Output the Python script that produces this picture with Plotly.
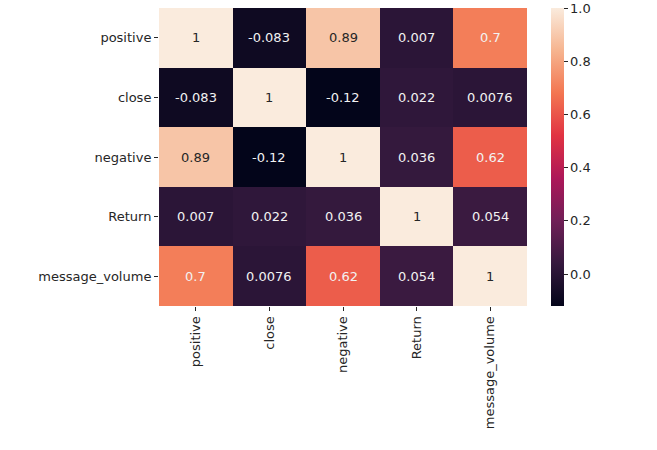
import plotly.graph_objects as go

labels = ["positive", "close", "negative", "Return", "message_volume"]
corr = [
    [1.0, -0.083, 0.89, 0.007, 0.7],
    [-0.083, 1.0, -0.12, 0.022, 0.0076],
    [0.89, -0.12, 1.0, 0.036, 0.62],
    [0.007, 0.022, 0.036, 1.0, 0.054],
    [0.7, 0.0076, 0.62, 0.054, 1.0],
]
cbar_ticks = [0.0, 0.2, 0.4, 0.6, 0.8, 1.0]

# seaborn "rocket" colormap (approximate)
rocket = [
    (0.0, "#03051a"),
    (1 / 7, "#35193e"),
    (2 / 7, "#701f57"),
    (3 / 7, "#ad1759"),
    (4 / 7, "#e13342"),
    (5 / 7, "#f37651"),
    (6 / 7, "#f6b48f"),
    (1.0, "#faebdd"),
]

zmin = min(min(r) for r in corr)
zmax = max(max(r) for r in corr)


def hex2rgb(h):
    h = h.lstrip("#")
    return [int(h[i:i + 2], 16) / 255 for i in (0, 2, 4)]


def cmap(t):
    for (p0, c0), (p1, c1) in zip(rocket[:-1], rocket[1:]):
        if p0 <= t <= p1:
            f = (t - p0) / (p1 - p0) if p1 > p0 else 0
            a, b = hex2rgb(c0), hex2rgb(c1)
            return [a[i] + f * (b[i] - a[i]) for i in range(3)]
    return hex2rgb(rocket[-1][1])


def lum(rgb):
    lin = [c / 12.92 if c <= 0.03928 else ((c + 0.055) / 1.055) ** 2.4 for c in rgb]
    return 0.2126 * lin[0] + 0.7152 * lin[1] + 0.0722 * lin[2]


fig = go.Figure(
    go.Heatmap(
        z=corr,
        x=labels,
        y=labels,
        zmin=zmin,
        zmax=zmax,
        colorscale=[[p, c] for p, c in rocket],
        hoverinfo="skip",
        colorbar=dict(
            x=1.065,
            xanchor="left",
            xref="paper",
            xpad=0,
            y=0.5,
            ypad=0,
            len=1,
            lenmode="fraction",
            thickness=13,
            thicknessmode="pixels",
            outlinewidth=0,
            tickvals=cbar_ticks,
            ticktext=[f"{v:.1f}" for v in cbar_ticks],
            ticks="outside",
            ticklen=4,
            tickwidth=1,
            tickcolor="#262626",
            ticklabeloverflow="allow",
            tickfont=dict(family="DejaVu Sans", size=13, color="#262626"),
        ),
    )
)

annotations = []
for i, row in enumerate(corr):
    for j, v in enumerate(row):
        t = (v - zmin) / (zmax - zmin)
        color = "#262626" if lum(cmap(t)) > 0.408 else "#f2f2f2"
        annotations.append(
            dict(
                x=labels[j],
                y=labels[i],
                text=format(v, ".2g"),
                showarrow=False,
                font=dict(family="DejaVu Sans", size=13, color=color),
            )
        )

fig.update_layout(
    width=657,
    height=450,
    margin=dict(l=159, r=130, t=8, b=144),
    paper_bgcolor="white",
    plot_bgcolor="white",
    annotations=annotations,
    font=dict(family="DejaVu Sans", size=13, color="#262626"),
)
fig.update_xaxes(
    tickangle=-90,
    ticks="outside",
    ticklen=4,
    tickcolor="#262626",
    showgrid=False,
    zeroline=False,
    showline=False,
    tickfont=dict(family="DejaVu Sans", size=13, color="#262626"),
)
fig.update_yaxes(
    autorange="reversed",
    ticks="outside",
    ticklen=4,
    tickcolor="#262626",
    showgrid=False,
    zeroline=False,
    showline=False,
    tickfont=dict(family="DejaVu Sans", size=13, color="#262626"),
)

fig.write_html(
    "out.html",
    config={"displayModeBar": False},
    post_script="document.body.style.margin='0px';",
)
